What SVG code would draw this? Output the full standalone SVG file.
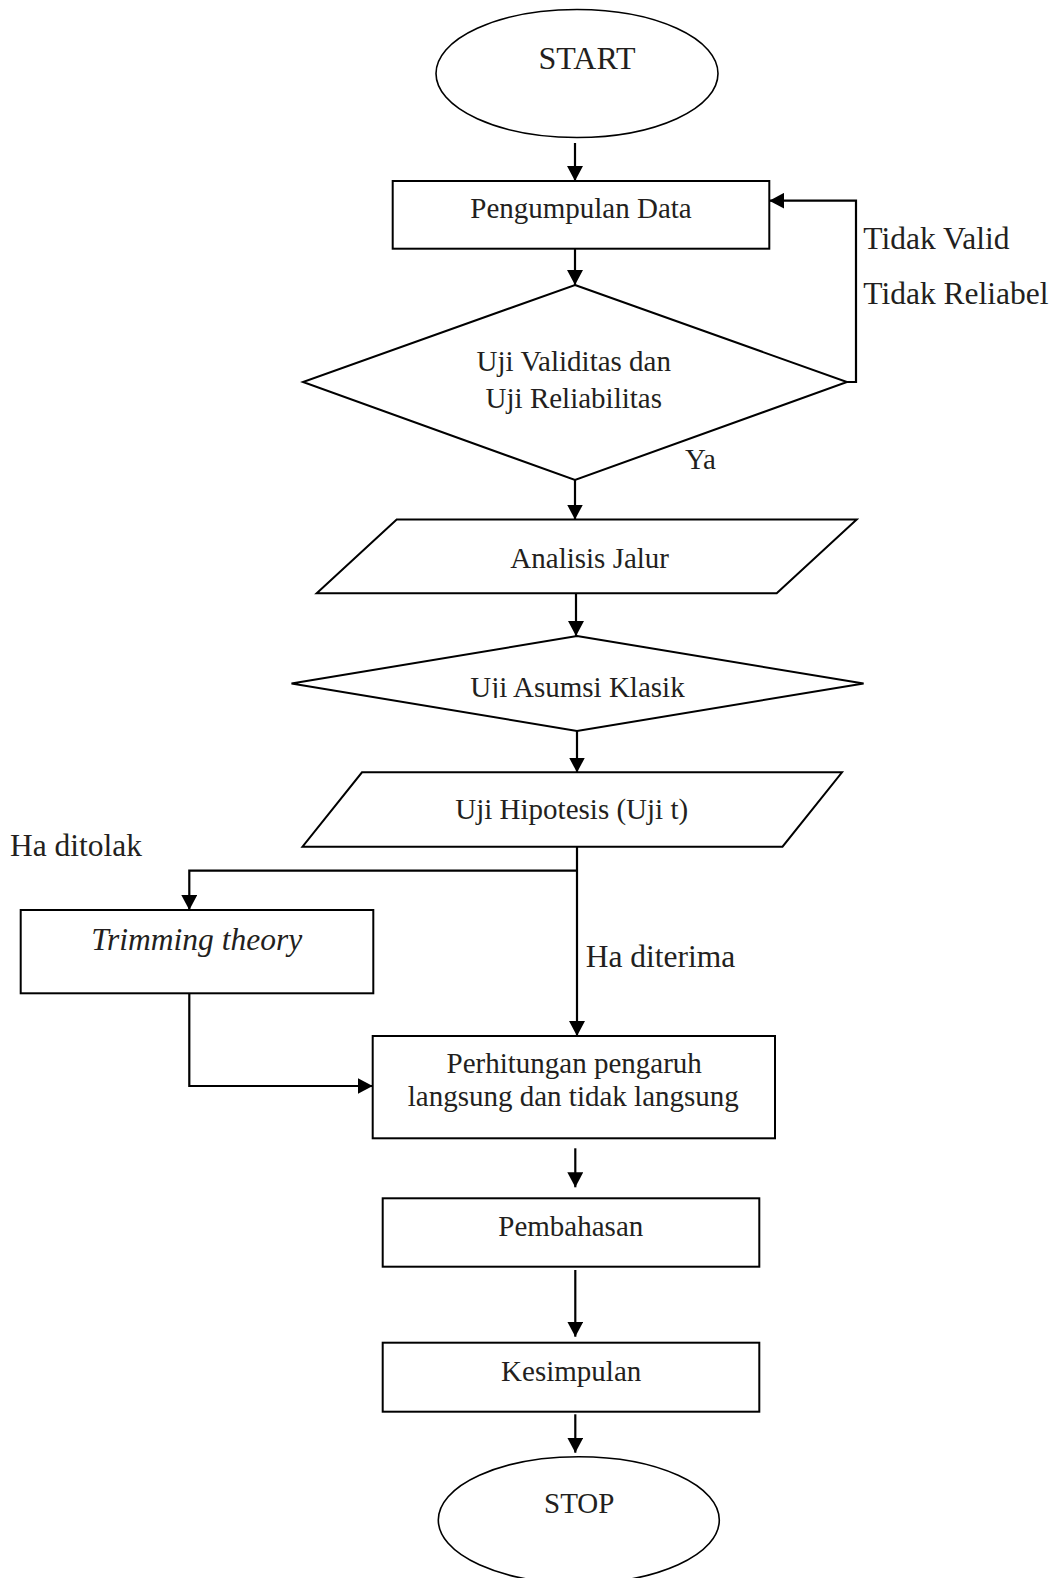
<svg xmlns="http://www.w3.org/2000/svg" width="1057" height="1578" viewBox="0 0 1057 1578">
<style>
.shape{fill:#fff;stroke:#000;stroke-width:2}
.ell{fill:#fff;stroke:#000;stroke-width:1.6}
.conn{fill:none;stroke:#000;stroke-width:2.2}
.t{font-family:"Liberation Serif","Times New Roman",serif;font-size:29px;fill:#231f20;text-anchor:middle}
.lbl{font-family:"Liberation Serif","Times New Roman",serif;font-size:31.5px;fill:#231f20}
</style>
<defs>
<marker id="ah" markerUnits="userSpaceOnUse" markerWidth="15" markerHeight="16" refX="15" refY="8" orient="auto">
<path d="M0,0 L15,8 L0,16 z" fill="#000"/>
</marker>
<clipPath id="clipAsumsi"><rect x="280" y="640" width="600" height="58"/></clipPath>
</defs>
<rect width="1057" height="1578" fill="#fff"/>

<g id="connectors">
<line class="conn" x1="575" y1="143" x2="575" y2="181" marker-end="url(#ah)"/>
<line class="conn" x1="575" y1="249" x2="575" y2="285" marker-end="url(#ah)"/>
<line class="conn" x1="575" y1="480" x2="575" y2="519.5" marker-end="url(#ah)"/>
<line class="conn" x1="576" y1="593.5" x2="576" y2="636" marker-end="url(#ah)"/>
<line class="conn" x1="577" y1="731" x2="577" y2="772.5" marker-end="url(#ah)"/>
<line class="conn" x1="577" y1="846.5" x2="577" y2="1036" marker-end="url(#ah)"/>
<polyline class="conn" points="577,870.7 189.3,870.7 189.3,910" marker-end="url(#ah)"/>
<polyline class="conn" points="189.3,993.3 189.3,1086 372.7,1086" marker-end="url(#ah)"/>
<polyline class="conn" points="846,382 856,382 856,200.7 769.3,200.7" marker-end="url(#ah)"/>
<line class="conn" x1="575.3" y1="1148.3" x2="575.3" y2="1187.3" marker-end="url(#ah)"/>
<line class="conn" x1="575.3" y1="1270" x2="575.3" y2="1336.7" marker-end="url(#ah)"/>
<line class="conn" x1="575.3" y1="1414.3" x2="575.3" y2="1452.7" marker-end="url(#ah)"/>
<text class="lbl" x="863.3" y="249.3">Tidak Valid</text>
<text class="lbl" x="863.3" y="304">Tidak Reliabel</text>
<text class="lbl" x="685" y="469.3" style="font-size:29px">Ya</text>
<text class="lbl" x="10" y="856">Ha ditolak</text>
<text class="lbl" x="585.7" y="967">Ha diterima</text>
</g>

<g id="start">
<ellipse class="ell" cx="577" cy="73.5" rx="141" ry="64"/>
<text class="t" x="587" y="69.3" style="font-size:32px">START</text>
</g>

<g id="pengumpulan">
<rect class="shape" x="392.7" y="181" width="376.6" height="67.7"/>
<text class="t" x="581" y="218.3">Pengumpulan Data</text>
</g>

<g id="uji-validitas">
<polygon class="shape" points="575,285 847,382 575,480 303,382"/>
<text class="t" x="573.8" y="370.7">Uji Validitas dan</text>
<text class="t" x="573.8" y="408.3">Uji Reliabilitas</text>
</g>

<g id="analisis-jalur">
<polygon class="shape" points="396.7,519.5 856.7,519.5 776.7,593.3 316.7,593.3"/>
<text class="t" x="589.7" y="568.3">Analisis Jalur</text>
</g>

<g id="uji-asumsi">
<polygon class="shape" points="577,636 863.6,683.5 577,731 291.5,683.5"/>
<text class="t" x="577.5" y="696.7" clip-path="url(#clipAsumsi)">Uji Asumsi Klasik</text>
</g>

<g id="uji-hipotesis">
<polygon class="shape" points="362,772.3 842,772.3 782.5,846.7 302.5,846.7"/>
<text class="t" x="571.7" y="819.3">Uji Hipotesis (Uji t)</text>
</g>

<g id="trimming">
<rect class="shape" x="20.7" y="910" width="352.6" height="83.3"/>
<text class="t" x="196.7" y="950" style="font-style:italic;font-size:31.5px">Trimming theory</text>
</g>

<g id="perhitungan">
<rect class="shape" x="372.7" y="1036" width="402.3" height="102.3"/>
<text class="t" x="574.2" y="1073.3">Perhitungan pengaruh</text>
<text class="t" x="573.3" y="1106">langsung dan tidak langsung</text>
</g>

<g id="pembahasan">
<rect class="shape" x="382.7" y="1198.3" width="376.6" height="68.4"/>
<text class="t" x="570.8" y="1236">Pembahasan</text>
</g>

<g id="kesimpulan">
<rect class="shape" x="382.7" y="1342.7" width="376.6" height="69"/>
<text class="t" x="571.2" y="1380.7">Kesimpulan</text>
</g>

<g id="stop">
<ellipse class="ell" cx="578.8" cy="1520" rx="140.5" ry="63.3"/>
<text class="t" x="579.2" y="1513.3">STOP</text>
</g>
</svg>
